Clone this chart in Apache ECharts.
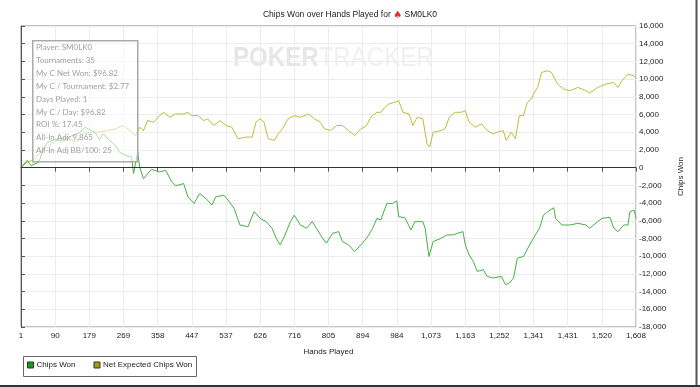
<!DOCTYPE html>
<html>
<head>
<meta charset="utf-8">
<script src="https://cdn.jsdelivr.net/npm/echarts@6/dist/echarts.min.js"></script>
<style>
html,body{margin:0;padding:0;background:#fff;}
#chart{width:700px;height:387px;}
</style>
</head>
<body>
<div id="chart"></div>
<script>
// ---- data ----
const xTickLabels = ['1','90','179','269','358','447','537','626','716','805','894','984','1,073','1,163','1,252','1,341','1,431','1,520','1,608'];
const yMin = -18000, yMax = 16000, yStep = 2000;

const chipsWonHands = [1,17,27,48,59,69,90,111,132,153,169,185,195,206,216,232,248,258,274,290,295,306,311,321,342,363,379,395,405,426,437,453,468,484,500,510,531,542,558,573,594,610,626,642,657,668,678,689,705,715,731,747,762,773,789,799,815,831,841,857,873,889,904,920,931,941,957,972,983,988,1004,1020,1030,1051,1057,1067,1078,1099,1114,1130,1141,1156,1162,1172,1183,1193,1209,1219,1235,1256,1267,1277,1288,1298,1314,1330,1345,1356,1366,1377,1393,1398,1414,1435,1456,1477,1487,1508,1519,1540,1550,1561,1576,1587,1592,1603,1608];
const chipsWonValues = [0,824,225,637,2060,2810,3184,2990,3560,3930,4570,4190,3930,3180,3820,3070,2500,1760,1390,1200,-674,1760,75,-1240,-190,-490,-300,-1610,-2060,-1800,-3300,-4040,-2920,-3480,-4230,-3300,-3110,-3670,-4610,-6480,-6670,-4980,-5730,-6100,-6850,-7980,-8730,-7790,-6100,-5360,-6480,-6850,-6100,-6850,-7980,-8540,-7420,-7230,-8350,-8730,-9470,-8730,-7980,-6850,-5730,-5920,-4040,-4040,-3750,-5540,-5650,-7040,-6100,-6100,-6850,-10040,-8350,-7980,-7600,-7600,-7420,-7230,-8730,-9850,-10600,-11720,-11530,-12280,-12470,-12280,-13220,-13030,-12470,-10220,-10040,-8730,-7600,-6850,-5360,-4980,-4530,-5730,-6480,-6480,-6290,-6480,-6850,-6100,-5730,-5620,-6850,-7230,-6480,-6480,-4980,-4790,-5730];

const netExpHands = [1,17,32,48,64,80,101,122,143,164,185,206,227,248,269,285,300,311,321,332,348,363,374,390,405,426,437,447,463,479,489,505,521,537,552,568,589,605,615,626,636,647,663,673,684,699,715,731,752,768,783,794,810,826,841,857,873,889,904,915,931,941,952,962,978,988,999,1015,1025,1036,1051,1062,1069,1078,1099,1109,1120,1135,1151,1162,1172,1188,1204,1219,1235,1246,1261,1269,1282,1293,1303,1314,1324,1335,1340,1351,1361,1377,1387,1403,1419,1435,1456,1477,1487,1508,1529,1550,1561,1571,1587,1603,1608];
const netExpValues = [0,637,824,1573,2135,2700,3260,3450,2880,3820,4010,4010,4190,4380,4760,4190,3630,4570,4190,5320,5130,5880,6250,5690,6070,6070,6250,5880,5880,5320,5510,4760,5320,4760,4570,3260,3450,3450,5130,5510,5130,3260,3070,3820,4380,5510,5880,5690,6070,5510,5130,4380,4190,4760,4760,4190,3630,4380,4760,5690,6250,6250,6820,7190,7380,7560,6250,6070,4760,5690,5510,2700,2320,4010,4190,4380,5690,6250,6250,6440,5130,4570,4940,4190,3820,4010,4190,3070,4010,3260,5880,5880,7380,7750,8310,9060,10750,10940,10750,9440,8880,8690,9060,8690,8430,9060,9440,9620,9060,9810,10560,10370,10070];

const infoLines = ['Player: SM0LK0','Tournaments: 35','My C Net Won: $96.82','My C / Tournament: $2.77','Days Played: 1','My C / Day: $96.82','ROI %: 17.45','All-In Adj: 9,865','All-In Adj BB/100: 25'];

const seriesNames = ['Chips Won','Net Expected Chips Won'];
// ---- build ----
const firstHand = 1, lastHand = 1608;
const xSpan = lastHand - firstHand;
const xStep = xSpan / (xTickLabels.length - 1);
const zip = (hs, vs) => hs.map((h, i) => [h - firstHand, vs[i]]);

const FONT = 'Liberation Sans, Arial, sans-serif';
const chart = echarts.init(document.getElementById('chart'), null, {renderer: 'canvas'});

const infoGraphics = infoLines.map((t, i) => ({
  type: 'text', left: 36, top: 43.5 + i * 12.9, z: 110,
  style: {text: t, fill: '#a0a0a0', font: '8px Lato, sans-serif'}
}));

chart.setOption({
  animation: false,
  backgroundColor: '#fff',
  title: {
    text: 'Chips Won over Hands Played for {sp|♠} SM0LK0',
    left: 'center', top: 5,
    textStyle: {fontFamily: FONT, fontSize: 8.5, fontWeight: 'normal', color: '#222',
      rich: {sp: {color: '#e03020', fontSize: 10, fontFamily: 'DejaVu Sans'}}}
  },
  grid: {left: 21, right: 64, top: 26, bottom: 60, show: true, borderColor: '#888', borderWidth: 1},
  legend: {
    left: 27, top: 361, padding: 0, itemWidth: 6, itemHeight: 6, itemGap: 18,
    icon: 'rect',
    textStyle: {fontFamily: FONT, fontSize: 8, color: '#222', padding: [0,0,0,-2]},
    data: [
      {name: seriesNames[0], itemStyle: {color: '#14a014', borderColor: '#333', borderWidth: 1}},
      {name: seriesNames[1], itemStyle: {color: '#a0a000', borderColor: '#333', borderWidth: 1}}
    ]
  },
  xAxis: {
    type: 'value', min: 0, max: xSpan, interval: xStep,
    name: 'Hands Played', nameLocation: 'middle', nameGap: 21,
    nameTextStyle: {fontFamily: FONT, fontSize: 8, color: '#222'},
    axisLine: {show: true, lineStyle: {color: '#555', width: 1}},
    axisTick: {show: true, length: 4, lineStyle: {color: '#555'}},
    axisLabel: {fontFamily: FONT, fontSize: 8, color: '#222', margin: 5,
      formatter: v => xTickLabels[Math.round(v / xStep)] ?? ''},
    splitLine: {show: true, lineStyle: {color: '#ececec', width: 1}}
  },
  yAxis: {
    type: 'value', position: 'right', min: yMin, max: yMax, interval: yStep,
    name: 'Chips Won', nameLocation: 'middle', nameGap: 40, nameRotate: 90,
    nameTextStyle: {fontFamily: FONT, fontSize: 8, color: '#222'},
    axisLine: {show: true, lineStyle: {color: '#555', width: 1}},
    axisTick: {show: true, length: 4, lineStyle: {color: '#555'}},
    axisLabel: {fontFamily: FONT, fontSize: 8, color: '#222', margin: 3,
      formatter: v => v.toLocaleString('en-US')},
    splitLine: {show: true, lineStyle: {color: '#ececec', width: 1}}
  },
  series: [
    {
      name: seriesNames[0], type: 'line', data: zip(chipsWonHands, chipsWonValues),
      symbol: 'none', z: 3,
      lineStyle: {color: '#44b044', width: 1}, itemStyle: {color: '#14a014'},
      markLine: {silent: true, symbol: 'none', label: {show: false},
        lineStyle: {color: '#333', width: 1.2, type: 'solid'}, data: [{yAxis: 0}]}
    },
    {
      name: seriesNames[1], type: 'line', data: zip(netExpHands, netExpValues),
      symbol: 'none', z: 2,
      lineStyle: {color: '#bdbd3c', width: 1}, itemStyle: {color: '#a0a000'}
    }
  ],
  graphic: [
    {type: 'text', left: 233, top: 44, z: 0, silent: true, scaleX: 0.86,
      style: {rich: {a: {font: 'bold 28px Liberation Sans, sans-serif', fill: '#e6e6e6'},
                     b: {font: '28px Liberation Sans, sans-serif', fill: '#f0f0f0'}},
              text: '{a|POKER}{b|TRACKER}'}},
    {type: 'rect', left: 32, top: 40, z: 100,
      shape: {width: 105, height: 121},
      style: {fill: 'rgba(255,255,255,0.55)', stroke: '#aaa', lineWidth: 1.5}},
    ...infoGraphics,
    {type: 'rect', left: 21, top: 354, z: 50,
      shape: {width: 173, height: 20},
      style: {fill: 'none', stroke: '#666', lineWidth: 1}},
    {type: 'line', z: 200, shape: {x1: 696.5, y1: 0, x2: 696.5, y2: 387}, style: {stroke: '#555', lineWidth: 2}},
    {type: 'line', z: 200, shape: {x1: 0, y1: 386, x2: 700, y2: 386}, style: {stroke: '#333', lineWidth: 2}}
  ]
});
</script>
</body>
</html>
